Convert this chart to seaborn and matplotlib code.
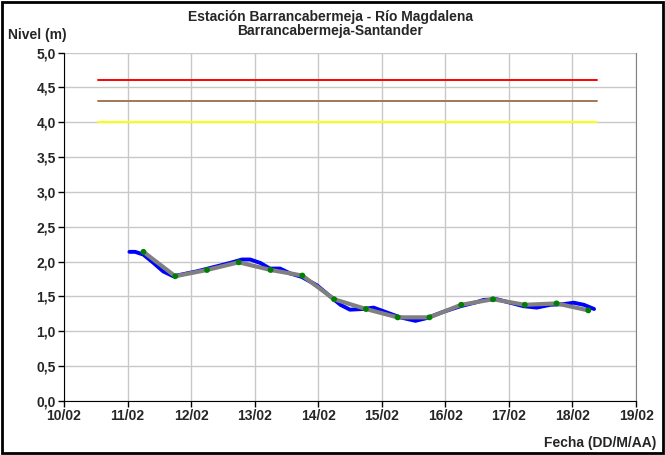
import numpy as np
import pandas as pd
import matplotlib
matplotlib.use("Agg")
import matplotlib.pyplot as plt
import seaborn as sns

# -----------------------
# Data (day of February, level in m)
# -----------------------

blue_day = [11.03, 11.12, 11.25, 11.41, 11.56, 11.72, 11.93, 12.09, 12.35, 12.61,
            12.80, 12.93, 13.09, 13.24, 13.40, 13.56, 13.74, 13.98, 14.19, 14.35,
            14.50, 14.71, 14.87, 15.08, 15.29, 15.53, 15.71, 15.97, 16.24, 16.50,
            16.60, 16.81, 17.02, 17.23, 17.44, 17.65, 17.86, 18.02, 18.18, 18.34]
blue_level = [2.14, 2.14, 2.10, 1.98, 1.86, 1.79, 1.83, 1.86, 1.92, 1.98,
              2.03, 2.03, 1.98, 1.90, 1.90, 1.83, 1.78, 1.66, 1.50, 1.38,
              1.31, 1.32, 1.34, 1.27, 1.20, 1.15, 1.19, 1.28, 1.36, 1.42,
              1.45, 1.46, 1.41, 1.36, 1.34, 1.38, 1.39, 1.41, 1.38, 1.32]

point_day = [11.25, 11.75, 12.25, 12.75, 13.25, 13.75, 14.25, 14.75,
             15.25, 15.75, 16.25, 16.75, 17.25, 17.75, 18.25]
point_level = [2.14, 1.79, 1.88, 1.99, 1.88, 1.80, 1.46, 1.32,
               1.20, 1.20, 1.38, 1.46, 1.38, 1.40, 1.30]

threshold_days = [10.53, 18.38]
red_level = 4.6
brown_level = 4.3
yellow_level = 4.0

x_ticks = [10, 11, 12, 13, 14, 15, 16, 17, 18, 19]
x_labels = ["10/02", "11/02", "12/02", "13/02", "14/02",
            "15/02", "16/02", "17/02", "18/02", "19/02"]
y_ticks = [0.0, 0.5, 1.0, 1.5, 2.0, 2.5, 3.0, 3.5, 4.0, 4.5, 5.0]
y_labels = ["0,0", "0,5", "1,0", "1,5", "2,0", "2,5", "3,0", "3,5", "4,0", "4,5", "5,0"]

blue_df = pd.DataFrame({"dia": blue_day, "nivel": blue_level})
point_df = pd.DataFrame({"dia": point_day, "nivel": point_level})

# -----------------------
# Plot
# -----------------------

sns.set_style("white")
plt.rcParams["font.family"] = ["Liberation Sans", "DejaVu Sans"]
plt.rcParams["font.weight"] = "bold"

fig = plt.figure(figsize=(6.65, 4.55), dpi=100)
ax = fig.add_axes([0.0962, 0.1187, 0.8602, 0.7659])

for lvl, col in [(red_level, "#ff0000"), (brown_level, "#a0785a"), (yellow_level, "#ffff00")]:
    sns.lineplot(x=threshold_days, y=[lvl, lvl], color=col, linewidth=1.4, ax=ax)

sns.lineplot(data=blue_df, x="dia", y="nivel", color="#0000ff", linewidth=2.8, ax=ax)
sns.lineplot(data=point_df, x="dia", y="nivel", color="#808080", linewidth=3.0, ax=ax)
sns.scatterplot(data=point_df, x="dia", y="nivel", color="#008000", s=18,
                edgecolor="none", zorder=5, ax=ax)

ax.set_xlim(10, 19)
ax.set_ylim(0, 5)
ax.set_xticks(x_ticks)
ax.set_xticklabels(x_labels, fontsize=10, fontweight="bold")
ax.set_yticks(y_ticks)
ax.set_yticklabels(y_labels, fontsize=10, fontweight="bold")
ax.set_xlabel("")
ax.set_ylabel("")
ax.grid(True, color="#c8c8c8", linewidth=1.0)
ax.set_axisbelow(True)
ax.tick_params(axis="both", direction="out", length=4, width=1, color="black", pad=2,
               bottom=True, left=True)
ax.spines["left"].set_color("black")
ax.spines["bottom"].set_color("black")
ax.spines["right"].set_color("#808080")
ax.spines["top"].set_visible(False)

fig.text(0.497, 0.962, "Estación Barrancabermeja - Río Magdalena", ha="center", va="center",
         fontsize=10, fontweight="bold")
fig.text(0.497, 0.931, "Barrancabermeja-Santander", ha="center", va="center",
         fontsize=10, fontweight="bold")
fig.text(0.012, 0.922, "Nivel (m)", ha="left", va="center", fontsize=10, fontweight="bold")
fig.text(0.987, 0.027, "Fecha (DD/M/AA)", ha="right", va="center", fontsize=10,
         fontweight="bold")

# black frame around the whole chart
fig.patches.append(plt.Rectangle((0.003, 0.004), 0.994, 0.992, transform=fig.transFigure,
                                 fill=False, edgecolor="black", linewidth=2))

plt.savefig("out.png", dpi=100)
